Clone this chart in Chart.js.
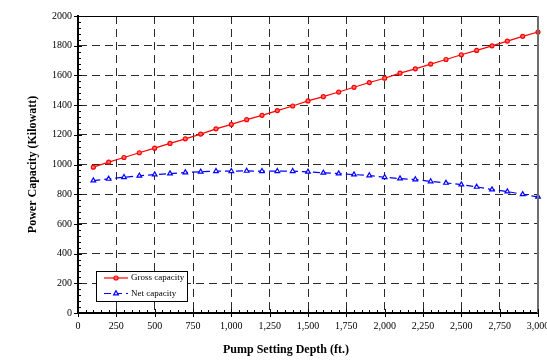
<!DOCTYPE html>
<html>
<head>
<meta charset="utf-8">
<title>Power Capacity vs Pump Setting Depth</title>
<script src="https://cdn.jsdelivr.net/npm/chart.js@4.4.1/dist/chart.umd.min.js"></script>
<style>
  html, body { margin: 0; padding: 0; background: #fff; }
  canvas { display: block; }
</style>
</head>
<body>
<canvas id="chart" width="547" height="360"></canvas>
<script>
// Pump setting depth (ft.)
const depths = [100, 200, 300, 400, 500, 600, 700, 800, 900, 1000,
                1100, 1200, 1300, 1400, 1500, 1600, 1700, 1800, 1900, 2000,
                2100, 2200, 2300, 2400, 2500, 2600, 2700, 2800, 2900, 3000];

// Gross power capacity (kW)
const grossCapacity = [982, 1016, 1047, 1079, 1110, 1142, 1173, 1205, 1240, 1270,
                       1302, 1331, 1363, 1394, 1428, 1457, 1488, 1520, 1552, 1581,
                       1615, 1644, 1676, 1707, 1739, 1768, 1799, 1831, 1863, 1892];

// Net power capacity (kW)
const netCapacity = [892, 903, 914, 924, 932, 939, 946, 951, 955, 955,
                     957, 955, 955, 955, 951, 944, 939, 932, 926, 914,
                     905, 899, 886, 876, 865, 849, 831, 818, 799, 782];

// Axis tick values
const xTickValues = [0, 250, 500, 750, 1000, 1250, 1500, 1750, 2000, 2250, 2500, 2750, 3000];
const yTickValues = [0, 200, 400, 600, 800, 1000, 1200, 1400, 1600, 1800, 2000];

const seriesLabels = ['Gross capacity', 'Net capacity'];
const xTitle = 'Pump Setting Depth (ft.)';
const yTitle = 'Power Capacity (Kilowatt)';

const SERIF = "'Liberation Serif', 'Times New Roman', serif";

// Frame, tick marks and x-axis title
const framePlugin = {
  id: 'frame',
  afterDatasetsDraw(chart) {
    const { ctx, chartArea: a, scales: { x, y } } = chart;
    ctx.save();
    ctx.setLineDash([]);
    // top border
    ctx.strokeStyle = '#000';
    ctx.lineWidth = 1;
    ctx.beginPath();
    ctx.moveTo(a.left, a.top + 0.5);
    ctx.lineTo(a.right, a.top + 0.5);
    ctx.stroke();
    // right border
    ctx.strokeStyle = '#6e6e6e';
    ctx.lineWidth = 2;
    ctx.beginPath();
    ctx.moveTo(a.right, a.top);
    ctx.lineTo(a.right, a.bottom);
    ctx.stroke();

    ctx.strokeStyle = '#000';
    ctx.lineWidth = 1;
    ctx.beginPath();
    // y minor ticks every 40
    for (let v = y.min; v <= y.max; v += 40) {
      const py = Math.round(y.getPixelForValue(v)) + 0.5;
      ctx.moveTo(a.left, py);
      ctx.lineTo(a.left + 3, py);
    }
    // y major ticks crossing the axis
    yTickValues.forEach(v => {
      const py = Math.round(y.getPixelForValue(v)) + 0.5;
      ctx.moveTo(a.left - 4, py);
      ctx.lineTo(a.left + 4, py);
    });
    // x minor ticks every 50
    for (let v = x.min; v <= x.max; v += 50) {
      const px = Math.round(x.getPixelForValue(v)) + 0.5;
      ctx.moveTo(px, a.bottom);
      ctx.lineTo(px, a.bottom - 3);
    }
    // x major ticks crossing the axis
    xTickValues.forEach(v => {
      const px = Math.round(x.getPixelForValue(v)) + 0.5;
      ctx.moveTo(px, a.bottom - 4);
      ctx.lineTo(px, a.bottom + 4);
    });
    ctx.stroke();

    // x-axis title
    ctx.fillStyle = '#000';
    ctx.font = 'bold 12px ' + SERIF;
    ctx.textAlign = 'center';
    ctx.textBaseline = 'middle';
    ctx.fillText(xTitle, 286, 350);
    ctx.restore();
  }
};

// Boxed legend inside the plot, lower left
const boxLegendPlugin = {
  id: 'boxLegend',
  afterDraw(chart) {
    const { ctx, chartArea: a } = chart;
    const bx = a.left + 18, by = a.bottom - 42, bw = 91, bh = 30;
    ctx.save();
    ctx.fillStyle = '#fff';
    ctx.fillRect(bx, by, bw, bh);
    ctx.strokeStyle = '#000';
    ctx.lineWidth = 1;
    ctx.setLineDash([]);
    ctx.strokeRect(bx + 0.5, by + 0.5, bw, bh);

    chart.data.datasets.forEach((ds, i) => {
      const ry = by + 7 + i * 15.5;
      ctx.strokeStyle = ds.borderColor;
      ctx.lineWidth = ds.borderWidth;
      ctx.setLineDash(ds.borderDash || []);
      ctx.beginPath();
      ctx.moveTo(bx + 8, ry);
      ctx.lineTo(bx + 32, ry);
      ctx.stroke();
      ctx.setLineDash([]);
      ctx.fillStyle = ds.pointBackgroundColor;
      ctx.strokeStyle = ds.pointBorderColor;
      ctx.lineWidth = ds.pointBorderWidth;
      Chart.helpers.drawPoint(ctx, {
        pointStyle: ds.pointStyle,
        radius: ds.pointRadius,
        borderWidth: ds.pointBorderWidth,
        rotation: 0
      }, bx + 20, ry);
      ctx.fillStyle = '#000';
      ctx.font = '9px ' + SERIF;
      ctx.textAlign = 'left';
      ctx.textBaseline = 'middle';
      ctx.fillText(ds.label, bx + 35, ry);
    });
    ctx.restore();
  }
};

const gridColor = (ctx, lastValue) => {
  const v = ctx.tick ? ctx.tick.value : null;
  if (v === 0 || v === lastValue) return 'rgba(0,0,0,0)';
  return '#2a2a2a';
};

new Chart(document.getElementById('chart'), {
  type: 'line',
  data: {
    datasets: [
      {
        label: seriesLabels[0],
        data: depths.map((d, i) => ({ x: d, y: grossCapacity[i] })),
        borderColor: '#ff0000',
        borderWidth: 1.2,
        pointStyle: 'circle',
        pointRadius: 2,
        pointBorderWidth: 1.2,
        pointBorderColor: '#ff0000',
        pointBackgroundColor: '#ff7070',
        tension: 0,
        clip: false
      },
      {
        label: seriesLabels[1],
        data: depths.map((d, i) => ({ x: d, y: netCapacity[i] })),
        borderColor: '#0000ff',
        borderWidth: 1.2,
        borderDash: [7, 4],
        pointStyle: 'triangle',
        pointRadius: 2.7,
        pointBorderWidth: 1.2,
        pointBorderColor: '#0000ff',
        pointBackgroundColor: '#ffffff',
        tension: 0,
        clip: false
      }
    ]
  },
  options: {
    responsive: false,
    animation: false,
    devicePixelRatio: 1,
    layout: { padding: { top: 16, right: 9, bottom: 0, left: 0 } },
    plugins: {
      legend: { display: false },
      tooltip: { enabled: false }
    },
    scales: {
      x: {
        type: 'linear',
        min: 0,
        max: 3000,
        afterBuildTicks: s => { s.ticks = xTickValues.map(v => ({ value: v })); },
        afterFit: s => { s.height = 47; s.paddingLeft = 0; s.paddingRight = 0; },
        ticks: {
          color: '#000',
          font: { family: SERIF, size: 10 },
          padding: 7,
          maxRotation: 0,
          autoSkip: false,
          callback: v => v.toLocaleString('en-US')
        },
        grid: {
          drawTicks: false,
          color: c => gridColor(c, 3000),
          lineWidth: 1
        },
        border: { display: true, color: '#000', width: 2, dash: [8, 5] }
      },
      y: {
        type: 'linear',
        min: 0,
        max: 2000,
        afterBuildTicks: s => { s.ticks = yTickValues.map(v => ({ value: v })); },
        afterFit: s => { s.width = 78; s.paddingTop = 0; s.paddingBottom = 0; },
        ticks: {
          color: '#000',
          font: { family: SERIF, size: 10 },
          padding: 6,
          autoSkip: false,
          callback: v => String(v)
        },
        grid: {
          drawTicks: false,
          color: c => gridColor(c, 2000),
          lineWidth: 1
        },
        border: { display: true, color: '#000', width: 2, dash: [8, 5] },
        title: {
          display: true,
          text: yTitle,
          color: '#000',
          font: { family: SERIF, size: 12, weight: 'bold' },
          padding: { top: 26, bottom: 0 }
        }
      }
    }
  },
  plugins: [framePlugin, boxLegendPlugin]
});
</script>
</body>
</html>
